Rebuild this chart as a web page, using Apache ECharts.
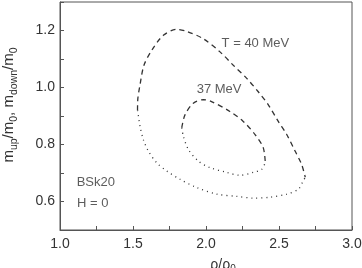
<!DOCTYPE html>
<html>
  <head>
    <meta http-equiv="Content-Type" content="text/html; charset=utf-8">
    <title>m/m0 vs rho</title>
    <style>
      html, body { margin: 0; padding: 0; background: #fff; }
      #chart { width: 362px; height: 268px; }
    </style>
    <script src="https://cdn.jsdelivr.net/npm/echarts@6/dist/echarts.min.js"></script>
  </head>
  <body>
    <div id="chart"></div>
    <script type="text/javascript">
      // T = 40 MeV, upper branch (m_up) and lower branch (m_down)
      var up40 = [[1.531,0.92],[1.533,0.96],[1.548,1.009],[1.575,1.078],[1.628,1.130],[1.708,1.183],[1.80,1.204],
                  [1.868,1.197],[1.982,1.171],[2.096,1.125],[2.187,1.078],[2.279,1.032],[2.358,0.985],
                  [2.427,0.939],[2.495,0.881],[2.553,0.835],[2.61,0.777],[2.655,0.73],[2.68,0.685]];
      var down40 = [[1.531,0.92],[1.536,0.904],[1.548,0.864],[1.571,0.817],[1.605,0.777],[1.662,0.736],
                    [1.731,0.707],[1.822,0.678],[1.936,0.649],[2.073,0.626],[2.21,0.618],[2.324,0.612],
                    [2.438,0.615],[2.553,0.626],[2.632,0.643],[2.666,0.672],[2.68,0.685]];
      // T = 37 MeV
      var up37 = [[1.834,0.859],[1.856,0.904],[1.913,0.945],[1.982,0.957],[2.027,0.953],[2.164,0.916],
                  [2.255,0.881],[2.336,0.835],[2.392,0.789],[2.406,0.737]];
      var down37 = [[1.834,0.859],[1.845,0.829],[1.879,0.783],[1.947,0.742],[2.027,0.719],[2.142,0.702],
                    [2.233,0.692],[2.324,0.702],[2.382,0.713],[2.406,0.737]];
      // text notes, placed in data coordinates
      var notes = [
        { value: [2.107, 1.156], text: 'T = 40 MeV' },
        { value: [1.936, 0.995], text: '37 MeV' },
        { value: [1.114, 0.668], text: 'BSk20' },
        { value: [1.116, 0.595], text: 'H = 0' }
      ];

      var ink = '#333';
      var font = 'Liberation Sans';

      function curve(data, dash) {
        return {
          type: 'line',
          data: data,
          symbol: 'none',
          smooth: 0.3,
          silent: true,
          lineStyle: { color: ink, width: 1.3, type: dash }
        };
      }

      var myChart = echarts.init(document.getElementById('chart'));
      myChart.setOption({
        animation: false,
        textStyle: { fontFamily: font },
        grid: {
          left: 60, right: 10, top: 2, bottom: 38, outerBoundsMode: 'none', containLabel: false,
          show: true, borderColor: '#555', borderWidth: 1
        },
        xAxis: {
          type: 'value', min: 1, max: 3, interval: 0.5,
          name: '{m|ρ/ρ}{s|0}', nameLocation: 'middle', nameGap: 26,
          nameTextStyle: {
            padding: [0, 0, 0, 34],
            rich: {
              m: { fontSize: 14, color: ink, fontFamily: font, lineHeight: 18 },
              s: { fontSize: 10, color: ink, fontFamily: font, lineHeight: 10, verticalAlign: 'bottom' }
            }
          },
          axisLine: { lineStyle: { color: '#555' } },
          axisTick: { inside: true, length: 4, lineStyle: { color: '#555' } },
          minorTick: { show: true, splitNumber: 2, length: 4, lineStyle: { color: '#555' } },
          axisLabel: { fontSize: 14, color: ink, margin: 7, formatter: function (v) { return v.toFixed(1); } },
          splitLine: { show: false }
        },
        yAxis: {
          type: 'value', min: 0.5, max: 1.3, interval: 0.1,
          name: '{m|m}{s|up}{m|/m}{s|0}{m|, m}{s|down}{m|/m}{s|0}',
          nameLocation: 'middle', nameRotate: 90, nameGap: 40,
          nameTextStyle: {
            padding: [0, 0, 0, 22],
            rich: {
              m: { fontSize: 15, color: ink, fontFamily: font, lineHeight: 22 },
              s: { fontSize: 10.5, color: ink, fontFamily: font, lineHeight: 12, verticalAlign: 'bottom' }
            }
          },
          axisLine: { lineStyle: { color: '#555' } },
          axisTick: { inside: true, length: 4, lineStyle: { color: '#555' } },
          axisLabel: {
            fontSize: 14, color: ink, margin: 5,
            formatter: function (v) {
              var k = Math.round(v * 10);
              return (k % 2 === 0) ? v.toFixed(1) : '';
            }
          },
          splitLine: { show: false }
        },
        series: [
          curve(up40, [5, 4]),
          curve(down40, [1, 4]),
          curve(up37, [5, 4]),
          curve(down37, [1, 4]),
          {
            type: 'scatter',
            symbolSize: 0,
            silent: true,
            data: notes.map(function (n) { return { value: n.value, name: n.text }; }),
            label: {
              show: true, position: 'right', distance: 0,
              formatter: '{b}', fontSize: 13, color: ink, fontFamily: font
            }
          }
        ]
      });
    </script>
  </body>
</html>
